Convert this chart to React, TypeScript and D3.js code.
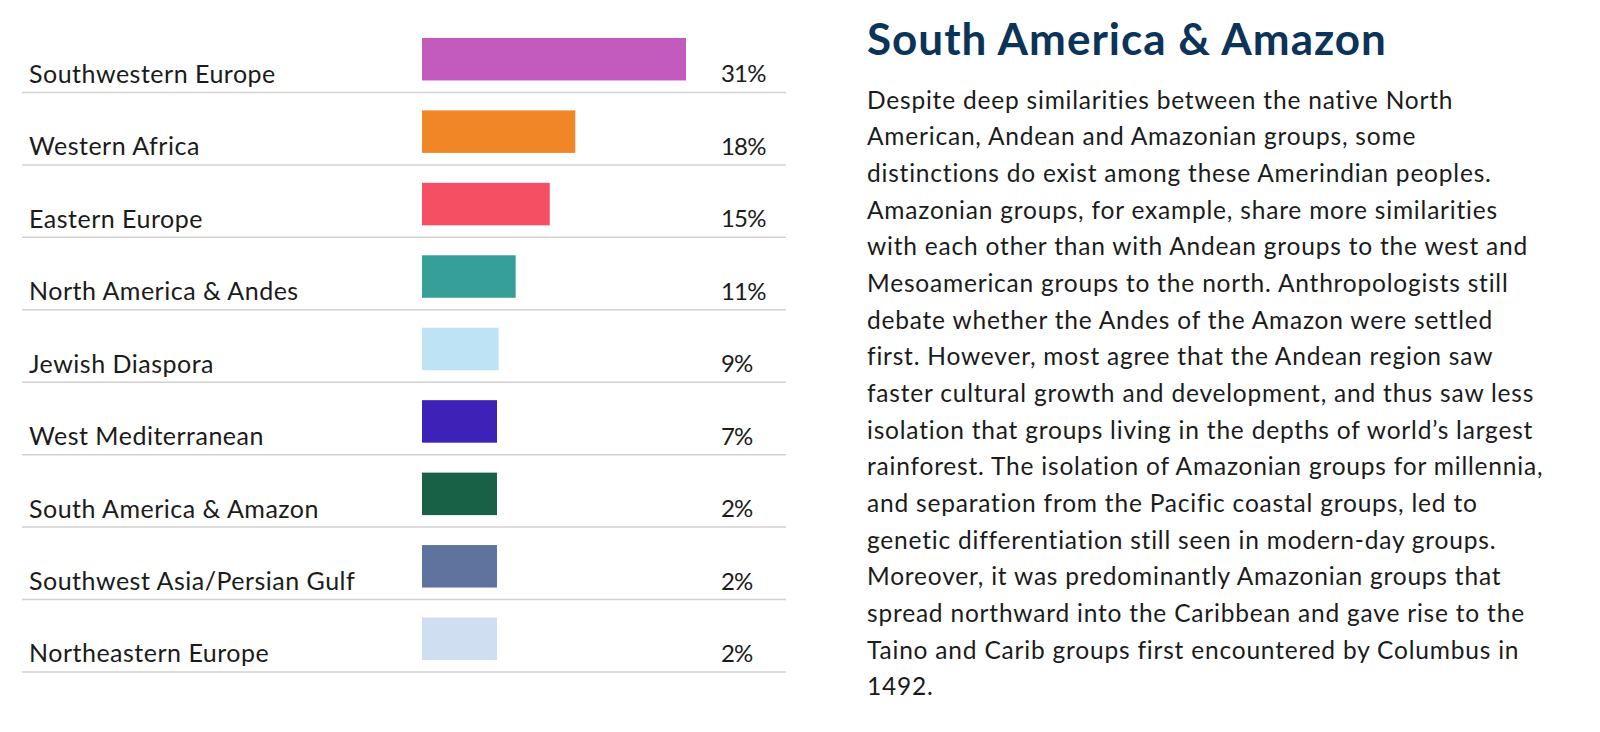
import { useEffect, useRef } from "react";
import * as d3 from "d3";

const regions = [
  "Southwestern Europe",
  "Western Africa",
  "Eastern Europe",
  "North America & Andes",
  "Jewish Diaspora",
  "West Mediterranean",
  "South America & Amazon",
  "Southwest Asia/Persian Gulf",
  "Northeastern Europe",
];
const shares = [31, 18, 15, 11, 9, 7, 2, 2, 2];
const barColors = [
  "#c25bbd",
  "#f08626",
  "#f44f63",
  "#369f9a",
  "#bde3f4",
  "#3e22b8",
  "#186146",
  "#5e749f",
  "#cfdef0",
];

const title = "South America & Amazon";
const bodyLines = [
  "Despite deep similarities between the native North",
  "American, Andean and Amazonian groups, some",
  "distinctions do exist among these Amerindian peoples.",
  "Amazonian groups, for example, share more similarities",
  "with each other than with Andean groups to the west and",
  "Mesoamerican groups to the north. Anthropologists still",
  "debate whether the Andes of the Amazon were settled",
  "first. However, most agree that the Andean region saw",
  "faster cultural growth and development, and thus saw less",
  "isolation that groups living in the depths of world\u2019s largest",
  "rainforest. The isolation of Amazonian groups for millennia,",
  "and separation from the Pacific coastal groups, led to",
  "genetic differentiation still seen in modern-day groups.",
  "Moreover, it was predominantly Amazonian groups that",
  "spread northward into the Caribbean and gave rise to the",
  "Taino and Carib groups first encountered by Columbus in",
  "1492.",
];

const W = 1600;
const H = 732;
const FONT = "Lato, 'Noto Sans', sans-serif";

export default function App() {
  const svgRef = useRef<SVGSVGElement>(null);

  useEffect(() => {
    if (!svgRef.current) return;
    const svg = d3.select(svgRef.current);
    svg.selectAll("*").remove();

    const y = d3.scaleBand<string>().domain(regions).range([20, 672]).padding(0);
    const x = d3.scaleLinear().domain([0, d3.max(shares) as number]).range([0, 264]);
    const barX = 422;
    const minBar = 75; // small shares get a fixed minimum bar

    const rows = svg
      .append("g")
      .selectAll("g")
      .data(regions)
      .join("g")
      .attr("transform", (d) => `translate(0,${y(d)})`);

    const bh = y.bandwidth();

    // row separators
    rows
      .append("line")
      .attr("x1", 22)
      .attr("x2", 786)
      .attr("y1", bh)
      .attr("y2", bh)
      .attr("stroke", "#d2d2d2")
      .attr("stroke-width", 1.5);

    rows
      .append("rect")
      .attr("x", barX)
      .attr("y", bh - 54.5)
      .attr("height", 42.5)
      .attr("width", (_, i) => Math.max(x(shares[i]), minBar))
      .attr("fill", (_, i) => barColors[i]);

    rows
      .append("text")
      .attr("x", 29)
      .attr("y", bh - 9.5)
      .attr("font-family", FONT)
      .attr("font-size", 25)
      .attr("letter-spacing", 0.5)
      .attr("fill", "#1b1b1b")
      .text((d) => d);

    rows
      .append("text")
      .attr("x", 721)
      .attr("y", bh - 10)
      .attr("font-family", FONT)
      .attr("font-size", 24)
      .attr("letter-spacing", -0.8)
      .attr("fill", "#1b1b1b")
      .text((_, i) => `${shares[i]}%`);

    // right-hand panel
    svg
      .append("text")
      .attr("x", 867)
      .attr("y", 55)
      .attr("font-family", FONT)
      .attr("font-size", 44)
      .attr("font-weight", 700)
      .attr("letter-spacing", 1)
      .attr("fill", "#0c3358")
      .text(title);

    svg
      .append("g")
      .selectAll("text")
      .data(bodyLines)
      .join("text")
      .attr("x", 867)
      .attr("y", (_, i) => 108.5 + i * 36.67)
      .attr("font-family", FONT)
      .attr("font-size", 24.5)
      .attr("letter-spacing", 0.8)
      .attr("fill", "#1b1b1b")
      .text((d) => d);
  }, []);

  return (
    <svg
      ref={svgRef}
      width={W}
      height={H}
      style={{ position: "absolute", left: 0, top: 0, background: "#fff" }}
    />
  );
}
